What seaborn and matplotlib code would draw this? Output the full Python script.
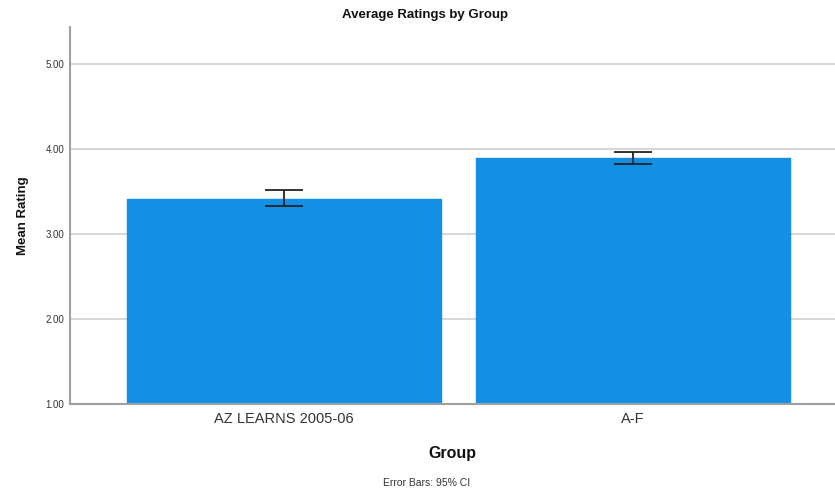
import matplotlib
matplotlib.use("Agg")
import matplotlib.pyplot as plt
import seaborn as sns
import pandas as pd

groups = ["AZ LEARNS 2005-06", "A-F"]
means = [3.41, 3.895]
ci_low = [3.33, 3.83]
ci_high = [3.52, 3.965]
yticks = [1.0, 2.0, 3.0, 4.0, 5.0]

sns.set_theme(style="white")
plt.rcParams['font.family'] = ['Liberation Sans', 'DejaVu Sans']

df = pd.DataFrame({"Group": groups, "Mean": means})

fig = plt.figure(figsize=(8.35, 4.92), dpi=100)
ax = fig.add_axes([70/835, 1-404/492, 1-70/835, (404-27)/492])

sns.barplot(data=df, x="Group", y="Mean", color="#1390e6", width=0.9,
            saturation=1, errorbar=None, ax=ax, zorder=2)
for p in ax.patches:
    p.set_edgecolor("#1390e6")

xs = list(range(len(groups)))
yerr = [[m - l for m, l in zip(means, ci_low)], [h - m for m, h in zip(means, ci_high)]]
ax.errorbar(xs, means, yerr=yerr, fmt="none", ecolor="#222222", elinewidth=1.3,
            capsize=13.5, capthick=1.3, zorder=3)

ax.set_ylim(1.0, 5.44)
ax.set_xlim(-0.613, 1.579)
ax.set_yticks(yticks)
ax.set_yticklabels([f"{v:.2f}" for v in yticks], fontsize=7, color="#333333")
ax.tick_params(axis="x", labelsize=10.5, colors="#333333", length=0, pad=6)
ax.tick_params(axis="y", length=0, pad=4)
ax.yaxis.grid(True, color="#d0d0d0", linewidth=1.2, zorder=0)
ax.set_axisbelow(True)
for s in ["top", "right"]:
    ax.spines[s].set_visible(False)
for s in ["left", "bottom"]:
    ax.spines[s].set_color("#a0a0a0")
    ax.spines[s].set_linewidth(1.5)

ax.set_ylabel("Mean Rating", fontsize=9.5, fontweight="bold", color="#111111", labelpad=12)
ax.set_xlabel("Group", fontsize=11.5, fontweight="bold", color="#111111", labelpad=14)
fig.text(425/835, 1 - 15/492, "Average Ratings by Group", ha="center", va="center",
         fontsize=9.5, fontweight="bold", color="#111111")
fig.text(427/835, 1 - 483/492, "Error Bars: 95% CI", ha="center", va="center",
         fontsize=7.5, color="#333333")

fig.savefig("out.png", dpi=100)
